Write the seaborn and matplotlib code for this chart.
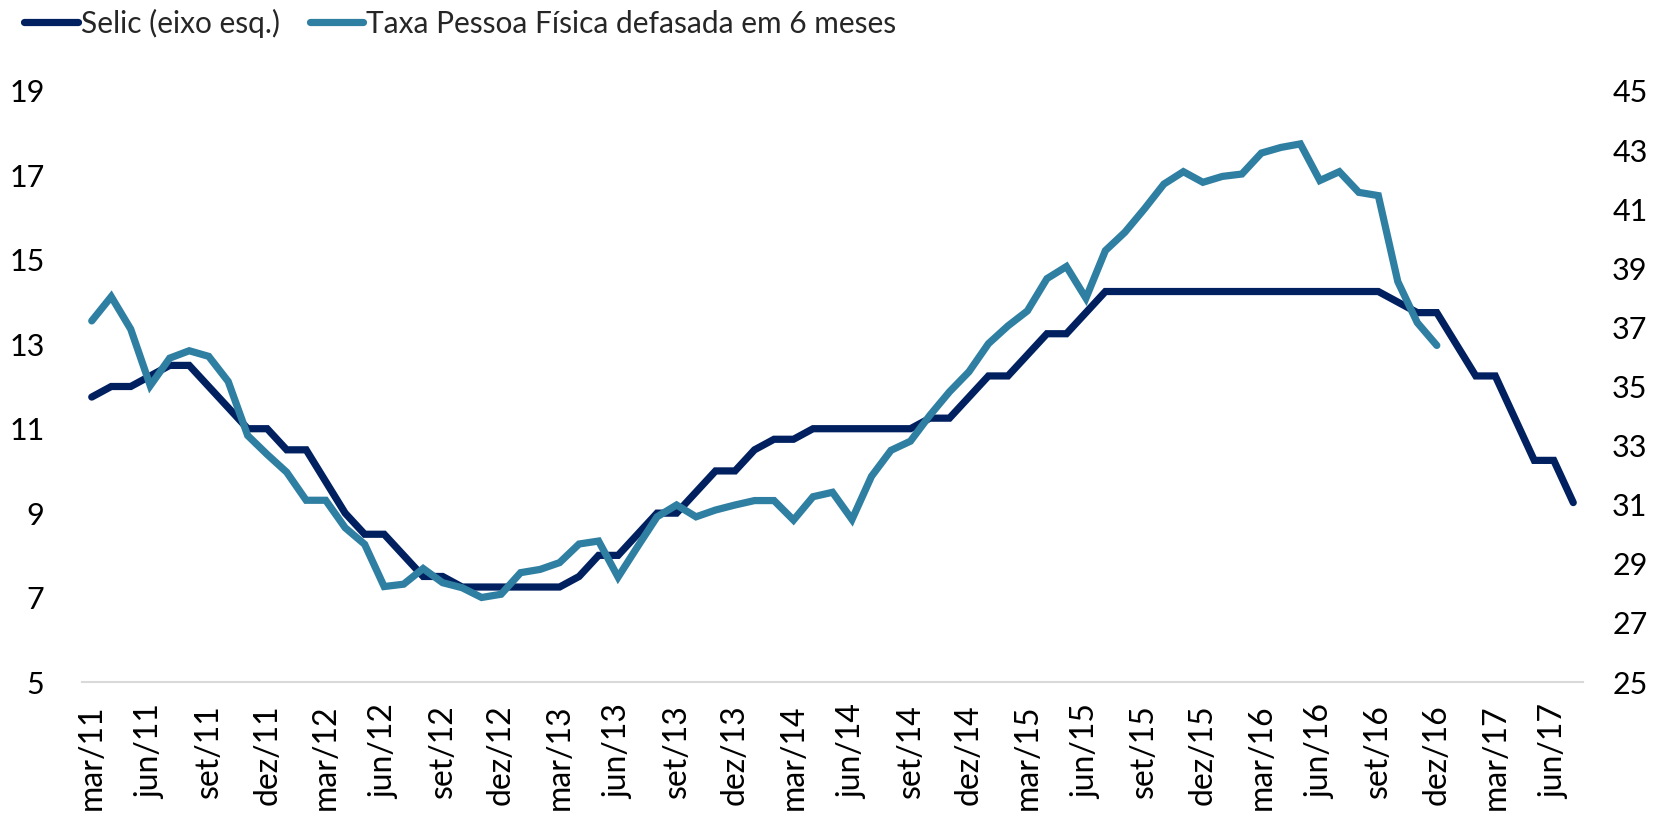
import matplotlib
matplotlib.use("Agg")
import matplotlib.pyplot as plt
import numpy as np
import pandas as pd
import seaborn as sns

# Monthly categories mar/11 .. jul/17
meses = ["jan", "fev", "mar", "abr", "mai", "jun", "jul", "ago", "set", "out", "nov", "dez"]
periods = pd.period_range("2011-03", "2017-07", freq="M")
month_labels = [f"{meses[p.month - 1]}/{p.year % 100:02d}" for p in periods]

# Selic (left axis), % a.a.
selic = [11.75, 12.00, 12.00, 12.25, 12.50, 12.50, 12.00, 11.50, 11.00, 11.00,
         10.50, 10.50, 9.75, 9.00, 8.50, 8.50, 8.00, 7.50, 7.50, 7.25,
         7.25, 7.25, 7.25, 7.25, 7.25, 7.50, 8.00, 8.00, 8.50, 9.00,
         9.00, 9.50, 10.00, 10.00, 10.50, 10.75, 10.75, 11.00, 11.00, 11.00,
         11.00, 11.00, 11.00, 11.25, 11.25, 11.75, 12.25, 12.25, 12.75, 13.25,
         13.25, 13.75, 14.25, 14.25, 14.25, 14.25, 14.25, 14.25, 14.25, 14.25,
         14.25, 14.25, 14.25, 14.25, 14.25, 14.25, 14.25, 14.00, 13.75, 13.75,
         13.00, 12.25, 12.25, 11.25, 10.25, 10.25, 9.25]

# Taxa Pessoa Fisica defasada em 6 meses (right axis), mar/11 .. dez/16
taxa_pf = [37.22, 38.04, 36.94, 35.03, 35.96, 36.21, 36.02, 35.17, 33.34, 32.70,
           32.10, 31.15, 31.15, 30.22, 29.66, 28.23, 28.31, 28.84, 28.36, 28.19,
           27.86, 27.97, 28.70, 28.81, 29.04, 29.67, 29.77, 28.55, 29.58, 30.59,
           30.99, 30.59, 30.82, 30.99, 31.14, 31.14, 30.48, 31.27, 31.42, 30.50,
           31.96, 32.84, 33.15, 34.03, 34.82, 35.50, 36.45, 37.05, 37.56, 38.65,
           39.06, 37.99, 39.60, 40.22, 41.01, 41.85, 42.27, 41.91, 42.11, 42.19,
           42.90, 43.09, 43.21, 41.97, 42.27, 41.57, 41.46, 38.55, 37.16, 36.39]

tick_labels = month_labels[::3]

selic_color = "#002060"
taxa_color = "#2E7FA1"

df_selic = pd.DataFrame({"idx": range(len(selic)), "selic": selic})
df_taxa = pd.DataFrame({"idx": range(len(taxa_pf)), "taxa": taxa_pf})

sns.set_style("white")
plt.rcParams["font.family"] = ["Lato", "DejaVu Sans"]

fig, ax = plt.subplots(figsize=(16.59, 8.18), dpi=100)
fig.subplots_adjust(left=82 / 1659, right=1583 / 1659, bottom=1 - 682 / 818, top=1 - 91 / 818)

sns.lineplot(data=df_selic, x="idx", y="selic", ax=ax, color=selic_color,
             linewidth=5.2, solid_capstyle="round", solid_joinstyle="miter",
             label="Selic (eixo esq.)", legend=False)
ax2 = ax.twinx()
sns.lineplot(data=df_taxa, x="idx", y="taxa", ax=ax2, color=taxa_color,
             linewidth=5.2, solid_capstyle="round", solid_joinstyle="miter",
             label="Taxa Pessoa Física defasada em 6 meses", legend=False)

# axes ranges and ticks
ax.set_xlim(-0.5, len(selic) - 0.5)
ax.set_ylim(5, 19)
ax.set_yticks(range(5, 20, 2))
ax2.set_ylim(25, 45)
ax2.set_yticks(range(25, 46, 2))

ax.set_xticks(range(0, len(selic), 3))
ax.set_xticklabels(tick_labels, rotation=90, fontsize=23)
ax.set_xticks(np.arange(-0.5, len(selic) - 1, 3), minor=True)

ax.set_xlabel("")
ax.set_ylabel("")
ax2.set_ylabel("")

ax.tick_params(axis="x", which="major", length=0, pad=16, colors="black")
ax.tick_params(axis="x", which="minor", length=10, width=1.5, color="#D9D9D9", direction="out")
ax.tick_params(axis="y", length=0, pad=27, labelsize=22, colors="black")
ax2.tick_params(axis="y", length=0, pad=21, labelsize=22, colors="black")

for side in ["left", "right", "top"]:
    ax.spines[side].set_visible(False)
    ax2.spines[side].set_visible(False)
ax2.spines["bottom"].set_visible(False)
ax.spines["bottom"].set_color("#D9D9D9")
ax.spines["bottom"].set_linewidth(1.5)
ax.grid(False)
ax2.grid(False)

# legend on top, one row
h1, l1 = ax.get_legend_handles_labels()
h2, l2 = ax2.get_legend_handles_labels()
fig.legend(h1 + h2, l1 + l2, loc="center left", bbox_to_anchor=(24 / 1659, 1 - 23 / 818),
           ncol=2, frameon=False, fontsize=21.5, handlelength=1.8, handletextpad=0.1,
           columnspacing=1.0, borderaxespad=0, borderpad=0)

plt.savefig("out.png", dpi=100)
plt.close()
